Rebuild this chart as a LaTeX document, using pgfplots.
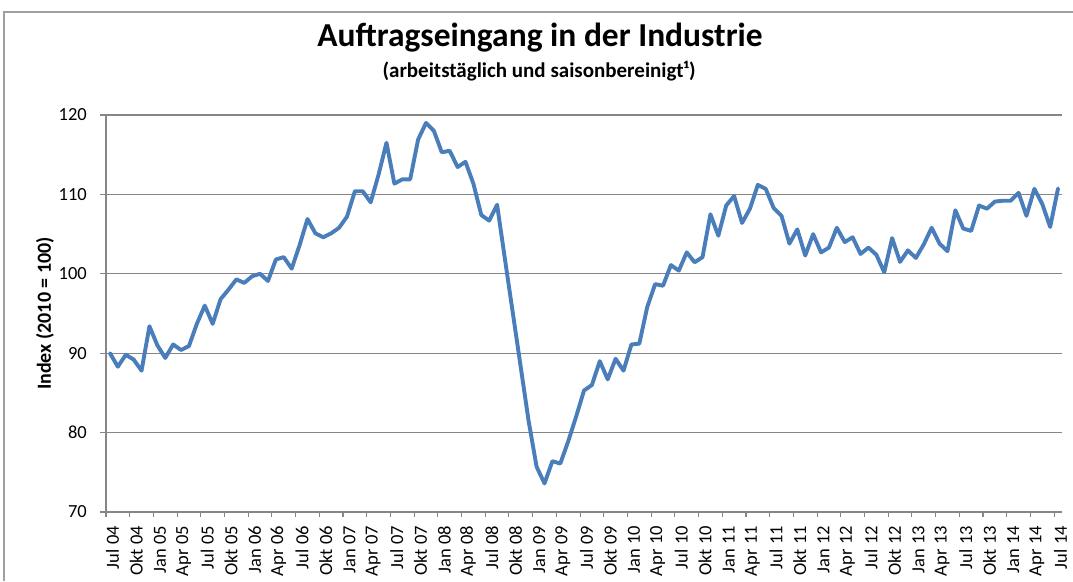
\documentclass[border=0pt]{standalone}
\usepackage{fontspec}
\setmainfont{Carlito}
\usepackage{pgfplots}
\pgfplotsset{compat=1.18}
\definecolor{linecol}{RGB}{74,126,187}
\definecolor{gridcol}{RGB}{134,134,134}
\definecolor{framecol}{RGB}{160,160,160}
\begin{document}
\begin{tikzpicture}[x=1pt,y=1pt]
\path[use as bounding box] (0,0) rectangle (1073,-581);
\draw[framecol, line width=1.2pt] (4,-581) -- (4,-12) -- (1073,-12);
\node[anchor=base, font=\fontsize{33.5}{40}\selectfont\bfseries] at (540,-46) {Auftragseingang in der Industrie};
\node[anchor=base, font=\fontsize{21}{25}\selectfont\bfseries] at (539,-77) {(arbeitstäglich und saisonbereinigt¹)};
\begin{axis}[
  at={(106pt,-512pt)}, anchor=south west,
  scale only axis, width=956pt, height=397pt,
  xmin=-0.5, xmax=120.5, ymin=70, ymax=120,
  axis lines=left, axis line style={-, gridcol, line width=1.3pt},
  ytick={70,80,...,120},
  ymajorgrids, grid style={gridcol, line width=1.1pt},
  xtick={0,3,...,120},
  xticklabels={Jul 04,Okt 04,Jan 05,Apr 05,Jul 05,Okt 05,Jan 06,Apr 06,Jul 06,Okt 06,Jan 07,Apr 07,Jul 07,Okt 07,Jan 08,Apr 08,Jul 08,Okt 08,Jan 09,Apr 09,Jul 09,Okt 09,Jan 10,Apr 10,Jul 10,Okt 10,Jan 11,Apr 11,Jul 11,Okt 11,Jan 12,Apr 12,Jul 12,Okt 12,Jan 13,Apr 13,Jul 13,Okt 13,Jan 14,Apr 14,Jul 14},
  minor xtick={-0.5,2.5,...,119.5},
  x tick style={draw=none},
  minor x tick style={draw=gridcol, line width=1.1pt},
  y tick style={draw=gridcol, line width=1.1pt},
  tick align=outside, major tick length=6pt, minor tick length=5pt,
  tick pos=left,
  /pgf/number format/assume math mode=true,
  ticklabel style={font=\fontsize{18.5}{22}\selectfont, text=black},
  xticklabel style={rotate=90, anchor=east, inner sep=0pt, xshift=-8pt, yshift=-2.5pt},
  yticklabel style={anchor=east, inner sep=0pt, xshift=-13pt},
  ylabel={Index (2010 = 100)},
  every axis y label/.style={at={(axis description cs:0,0.5)}, rotate=90, anchor=center, yshift=61pt, font=\fontsize{20}{24}\selectfont\bfseries},
  clip=false,
]
\addplot[linecol, line width=3.9pt, line join=round, line cap=round] coordinates {
(0,90.0) (1,88.3) (2,89.8) (3,89.2) (4,87.8) (5,93.4) (6,91.0) (7,89.4) (8,91.1) (9,90.4)
(10,90.9) (11,93.7) (12,96.0) (13,93.7) (14,96.8) (15,98.0) (16,99.3) (17,98.85) (18,99.7) (19,100.0)
(20,99.1) (21,101.8) (22,102.1) (23,100.65) (24,103.6) (25,106.9) (26,105.1) (27,104.6) (28,105.1) (29,105.8)
(30,107.2) (31,110.4) (32,110.4) (33,109.0) (34,112.5) (35,116.5) (36,111.35) (37,111.9) (38,111.9) (39,116.9)
(40,119.0) (41,118.0) (42,115.3) (43,115.5) (44,113.45) (45,114.1) (46,111.35) (47,107.4) (48,106.7) (49,108.7)
(50,101.8) (51,95.0) (52,88.2) (53,81.4) (54,75.7) (55,73.6) (56,76.4) (57,76.1) (58,78.9) (59,82.0)
(60,85.3) (61,86.0) (62,89.0) (63,86.7) (64,89.3) (65,87.8) (66,91.1) (67,91.2) (68,95.8) (69,98.7)
(70,98.5) (71,101.1) (72,100.4) (73,102.7) (74,101.45) (75,102.1) (76,107.5) (77,104.8) (78,108.6) (79,109.8)
(80,106.4) (81,108.2) (82,111.2) (83,110.7) (84,108.3) (85,107.3) (86,103.8) (87,105.6) (88,102.3) (89,105.0)
(90,102.7) (91,103.3) (92,105.8) (93,104.0) (94,104.6) (95,102.5) (96,103.3) (97,102.4) (98,100.2) (99,104.5)
(100,101.5) (101,102.95) (102,102.0) (103,103.7) (104,105.8) (105,103.8) (106,102.85) (107,108.0) (108,105.7) (109,105.4)
(110,108.6) (111,108.2) (112,109.1) (113,109.2) (114,109.2) (115,110.2) (116,107.3) (117,110.7) (118,108.8) (119,105.9)
(120,110.75)
};
\end{axis}
\end{tikzpicture}
\end{document}
